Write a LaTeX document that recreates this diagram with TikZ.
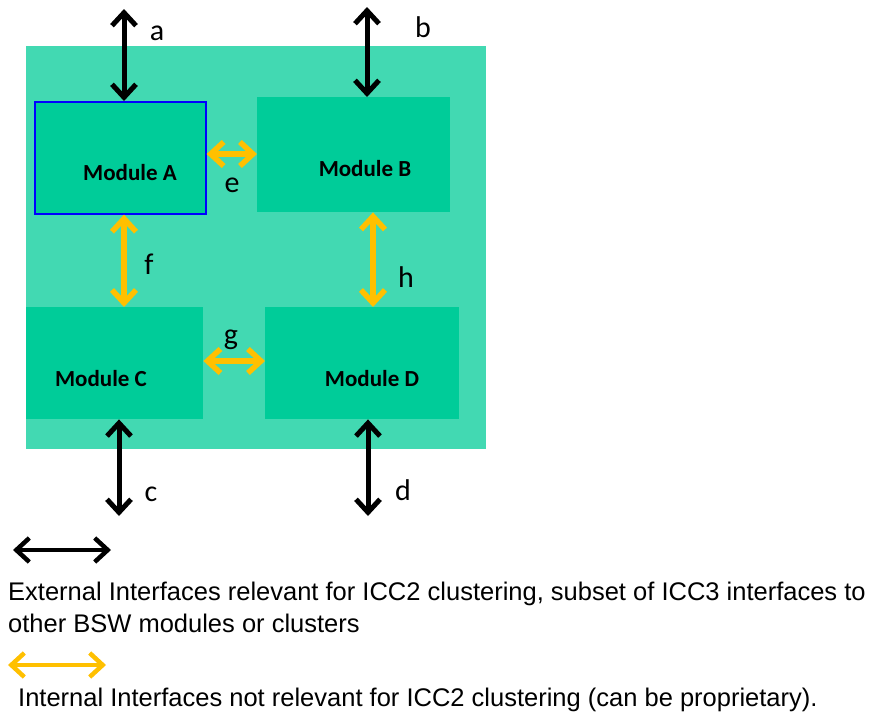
\documentclass[tikz,border=0pt]{standalone}
\usepackage{fontspec}
\setmainfont{Liberation Sans}
\newfontfamily\carlito{Carlito}
\usetikzlibrary{arrows.meta}
\definecolor{clusterfill}{HTML}{42D9B2}
\definecolor{modfill}{HTML}{00CC99}
\definecolor{intcol}{HTML}{FFC000}
\definecolor{frameblue}{HTML}{0000FF}
\tikzset{
  modbox/.style={draw=none, fill=modfill, inner sep=0pt, anchor=north west},
  modlabel/.style={font=\carlito\bfseries\fontsize{23}{26}\selectfont, inner sep=0pt},
  letter/.style={font=\carlito\fontsize{30}{34}\selectfont, inner sep=0pt},
  barbs/.style={{Straight Barb[length=13pt,width=24pt]}-{Straight Barb[length=13pt,width=24pt]}},
  extarrow/.style={line width=5pt, black, barbs},
  intarrow/.style={line width=5.5pt, intcol, barbs},
  legendtext/.style={font=\fontsize{25.5}{32}\selectfont, inner sep=0pt, anchor=base west, align=left}
}
\begin{document}
\begin{tikzpicture}[x=1pt,y=-1pt]
\useasboundingbox (0,0) rectangle (870,715);
\fill[white] (0,0) rectangle (870,715);

% cluster background
\node[modbox, fill=clusterfill, minimum width=460pt, minimum height=403pt] (cluster) at (26,46) {};

% modules
\node[modbox, draw=frameblue, line width=1.6pt, minimum width=171pt, minimum height=112pt] (modA) at (34,101) {};
\node[modbox, minimum width=193pt, minimum height=115pt] (modB) at (257,97) {};
\node[modbox, minimum width=177pt, minimum height=112pt] (modC) at (26,307) {};
\node[modbox, minimum width=194pt, minimum height=112pt] (modD) at (265,307) {};

\node[modlabel] (labA) at (130,173) {Module A};
\node[modlabel] (labB) at (365,169) {Module B};
\node[modlabel] (labC) at (101,379) {Module C};
\node[modlabel] (labD) at (372,379) {Module D};

% free ends of the external interfaces
\coordinate (aEnd) at (124,9);
\coordinate (bEnd) at (367,7);
\coordinate (cEnd) at (119,516);
\coordinate (dEnd) at (368,516);

% external interfaces
\draw[extarrow] (aEnd) -- (aEnd |- modA.north);
\draw[extarrow] (bEnd) -- (bEnd |- modB.north);
\draw[extarrow] (cEnd |- modC.south) -- (cEnd);
\draw[extarrow] (dEnd |- modD.south) -- (dEnd);

% internal interfaces
\coordinate (eRow) at (0,154);
\coordinate (fCol) at (124,0);
\coordinate (gRow) at (0,361);
\coordinate (hCol) at (373,0);
\draw[intarrow] (modA.east |- eRow) -- (modB.west |- eRow);
\draw[intarrow] (fCol |- modA.south) -- (fCol |- modC.north);
\draw[intarrow] (modC.east |- gRow) -- (modD.west |- gRow);
\draw[intarrow] (hCol |- modB.south) -- (hCol |- modD.north);

% interface letters
\node[letter] (la) at (157,33) {a};
\node[letter] (lb) at (423,27) {b};
\node[letter] (lc) at (151,494) {c};
\node[letter] (ld) at (403,490) {d};
\node[letter] (le) at (232,185) {e};
\node[letter] (lf) at (149,264) {f};
\node[letter] (lg) at (231,340) {g};
\node[letter] (lh) at (406,277) {h};

% legend
\coordinate (extL) at (13,550);
\coordinate (extR) at (111,550);
\draw[extarrow, line width=4.5pt] (extL) -- (extR);
\node[legendtext] (extText) at (8,632) {External Interfaces relevant for ICC2 clustering, subset of ICC3 interfaces to\\other BSW modules or clusters};
\coordinate (intL) at (8,665);
\coordinate (intR) at (106,665);
\draw[intarrow, line width=4.5pt] (intL) -- (intR);
\node[legendtext] (intText) at (18,706) {Internal Interfaces not relevant for ICC2 clustering (can be proprietary).};
\end{tikzpicture}
\end{document}
